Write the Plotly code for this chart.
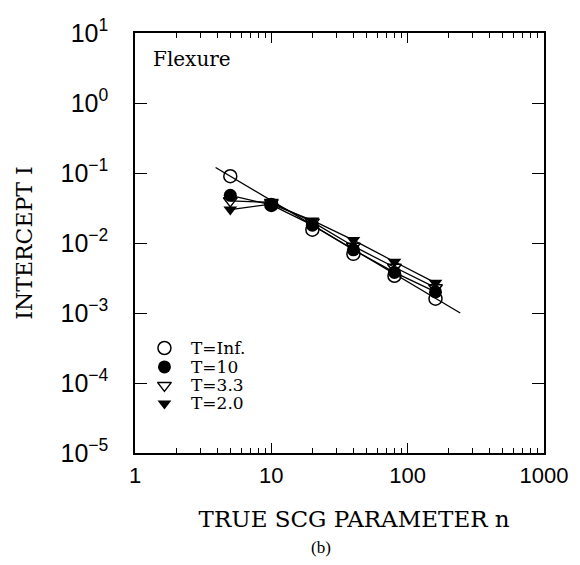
import plotly.graph_objects as go

n_vals = [5, 10, 20, 40, 80, 160]
T_inf = [0.090, 0.035, 0.0155, 0.0070, 0.0034, 0.0016]
T_10 = [0.048, 0.035, 0.018, 0.0080, 0.0038, 0.0020]
T_33 = [0.040, 0.038, 0.020, 0.0090, 0.0045, 0.0023]
T_20 = [0.030, 0.036, 0.021, 0.0110, 0.0054, 0.0027]
fit_n = [3.9, 243]
fit_I = [0.12, 0.001]

series_names = ["T=Inf.", "T=10", "T=3.3", "T=2.0"]
x_tickvals = [1, 10, 100, 1000]
x_ticktext = ["1", "10", "100", "1000"]
x_minor = [m * d for d in (1, 10, 100) for m in range(2, 10)]
y_tickvals = [1e1, 1e0, 1e-1, 1e-2, 1e-3, 1e-4, 1e-5]
y_ticktext = ["10<sup>1</sup>", "10<sup>0</sup>", "10<sup>−1</sup>", "10<sup>−2</sup>",
              "10<sup>−3</sup>", "10<sup>−4</sup>", "10<sup>−5</sup>"]

serif = "DejaVu Serif, serif"
sans = "Liberation Sans, Arial, sans-serif"

sym = [dict(symbol="circle-open", size=13, color="black", line=dict(width=1.5, color="black")),
       dict(symbol="circle", size=13, color="black"),
       dict(symbol="triangle-down-open", size=12, color="black", line=dict(width=1.5, color="black")),
       dict(symbol="triangle-down", size=12, color="black")]

fig = go.Figure()
fig.add_trace(go.Scatter(x=fit_n, y=fit_I, mode="lines", line=dict(color="black", width=1.3), showlegend=False))
for ys in (T_10, T_33, T_20):
    fig.add_trace(go.Scatter(x=n_vals, y=ys, mode="lines", line=dict(color="black", width=1.3), showlegend=False))
for name, ys, mk in zip(series_names, (T_inf, T_10, T_33, T_20), sym):
    fig.add_trace(go.Scatter(x=n_vals, y=ys, mode="markers", name=name, marker=mk, showlegend=False))

# custom legend (on an overlay paper-like axis)
leg_y = [0.25, 0.205, 0.161, 0.118]
for name, yy, mk in zip(series_names, leg_y, sym):
    fig.add_trace(go.Scatter(x=[0.072], y=[yy], mode="markers", marker=mk, xaxis="x2", yaxis="y2",
                             showlegend=False, hoverinfo="skip"))

annotations = [
    dict(text="Flexure", x=0.04, y=0.937, xref="paper", yref="paper", xanchor="left", yanchor="middle",
         showarrow=False, font=dict(family=serif, size=20, color="black")),
    dict(text="(b)", x=0.455, y=-0.224, xref="paper", yref="paper", xanchor="center", yanchor="middle",
         showarrow=False, font=dict(family="Liberation Serif, serif", size=17, color="black")),
]
for name, yy in zip(series_names, leg_y):
    annotations.append(dict(text=name, x=0.133, y=yy, xref="paper", yref="paper", xanchor="left",
                            yanchor="middle", showarrow=False,
                            font=dict(family=serif, size=17, color="black")))

fig.update_layout(
    width=580, height=565,
    margin=dict(l=135, r=30, t=33, b=112),
    paper_bgcolor="white", plot_bgcolor="white",
    showlegend=False,
    annotations=annotations,
    xaxis2=dict(overlaying="x", range=[0, 1], visible=False),
    yaxis2=dict(overlaying="y", range=[0, 1], visible=False),
)
fig.update_layout(xaxis=dict(
    type="log", range=[0, 3], showline=True, linecolor="black", linewidth=1.5,
    mirror="allticks", ticks="inside", ticklen=10, tickwidth=1.2, tickcolor="black",
    tickvals=x_tickvals, ticktext=x_ticktext, showgrid=False, zeroline=False,
    ticklabelstandoff=2,
    tickfont=dict(family=sans, size=22, color="black"),
    minor=dict(ticks="inside", ticklen=5, tickwidth=1.2, tickcolor="black", showgrid=False,
               tickmode="array", tickvals=x_minor),
    title=dict(text="&nbsp;&nbsp;&nbsp;&nbsp;TRUE SCG PARAMETER n",
               font=dict(family=serif, size=23, color="black"), standoff=24)))
fig.update_layout(yaxis=dict(
    type="log", range=[-5, 1], showline=True, linecolor="black", linewidth=1.5,
    mirror="allticks", ticks="inside", ticklen=12, tickwidth=1.2, tickcolor="black",
    tickvals=y_tickvals, ticktext=y_ticktext, showgrid=False, zeroline=False,
    ticklabelstandoff=20,
    tickfont=dict(family=sans, size=25, color="black"),
    title=dict(text="INTERCEPT I", font=dict(family=serif, size=22, color="black"), standoff=22)))

fig.write_html("out.html")
